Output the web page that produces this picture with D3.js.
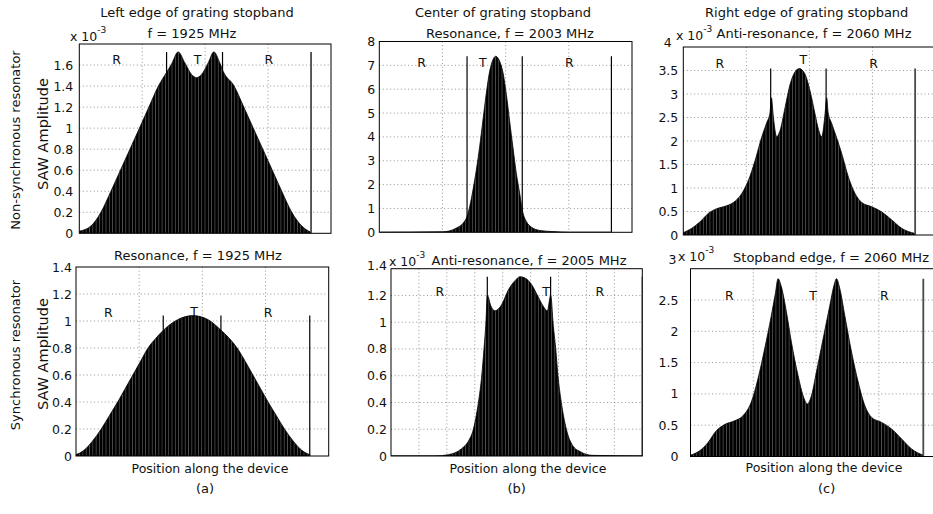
<!DOCTYPE html>
<html><head><meta charset="utf-8">
<script src="https://cdn.jsdelivr.net/npm/d3@7"></script>
<style>
body{margin:0;background:#fff}
text{font-family:"DejaVu Sans",Verdana,sans-serif;fill:#111}
</style>
</head><body>
<svg id="chart" width="933" height="514"></svg>
<script>
// ---------------- DATA ----------------
// (a) top: non-synchronous, left edge, f = 1925 MHz  (x 1e-3)
const a1Pos = [0, 0.186, 0.344, 0.503, 0.654, 0.805, 0.956, 1.106, 1.257, 1.387, 1.467, 1.571, 1.678, 1.784, 1.863, 1.943, 2.048, 2.138, 2.233, 2.286, 2.46, 2.614, 2.765, 2.916, 3.067, 3.217, 3.376, 3.535, 3.68];
const a1Amp = [0.02, 0.07, 0.2, 0.4, 0.6, 0.8, 1.0, 1.2, 1.4, 1.53, 1.61, 1.725, 1.62, 1.51, 1.48, 1.51, 1.62, 1.725, 1.62, 1.54, 1.4, 1.2, 1.0, 0.8, 0.6, 0.4, 0.2, 0.07, 0.01];
const a1Lines = [1.387, 2.276, 3.683];
const a1YTicks = [0, 0.2, 0.4, 0.6, 0.8, 1, 1.2, 1.4, 1.6];
const a1LabelPos = [0.594, 1.878, 3.011];
const a1LabelAmp = [1.65, 1.65, 1.65];

// (b) top: center, resonance f = 2003 MHz
const b1Pos = [0, 1.0, 1.116, 1.221, 1.326, 1.389, 1.432, 1.484, 1.537, 1.589, 1.642, 1.695, 1.747, 1.8, 1.842, 1.905, 1.958, 2.011, 2.063, 2.116, 2.168, 2.221, 2.274, 2.326, 2.405, 2.537, 2.747, 3.011, 3.674];
const b1Amp = [0, 0.02, 0.06, 0.18, 0.38, 0.67, 1.09, 1.79, 2.63, 3.6, 4.73, 5.85, 6.75, 7.24, 7.38, 7.17, 6.69, 5.78, 4.66, 3.54, 2.49, 1.65, 0.81, 0.46, 0.22, 0.08, 0.03, 0, 0];
const b1Lines = [1.389, 2.263, 3.674];
const b1YTicks = [0, 1, 2, 3, 4, 5, 6, 7, 8];
const b1LabelPos = [0.67, 1.64, 3.01];
const b1LabelAmp = [7.11, 7.11, 7.11];

// (c) top: right edge, anti-resonance f = 2060 MHz (x 1e-3)
const c1Pos = [0, 0.132, 0.265, 0.397, 0.529, 0.661, 0.794, 0.926, 1.032, 1.138, 1.243, 1.323, 1.376, 1.397, 1.429, 1.481, 1.534, 1.614, 1.693, 1.772, 1.841, 1.931, 2.011, 2.09, 2.143, 2.196, 2.243, 2.275, 2.296, 2.349, 2.429, 2.513, 2.619, 2.725, 2.831, 2.989, 3.148, 3.307, 3.466, 3.667];
const c1Amp = [0.05, 0.14, 0.28, 0.46, 0.56, 0.61, 0.69, 0.88, 1.16, 1.58, 2.08, 2.39, 2.61, 2.92, 2.5, 2.09, 2.22, 2.71, 3.2, 3.47, 3.54, 3.42, 3.06, 2.57, 2.25, 2.09, 2.5, 2.92, 2.61, 2.39, 2.08, 1.73, 1.23, 0.88, 0.69, 0.6, 0.49, 0.32, 0.14, 0.035];
const c1Lines = [1.386, 2.265, 3.677];
const c1YTicks = [0, 0.5, 1, 1.5, 2, 2.5, 3, 3.5, 4];
const c1LabelPos = [0.58, 1.905, 3.02];
const c1LabelAmp = [3.64, 3.74, 3.64];

// (a) bottom: synchronous, resonance f = 1925 MHz
const a2Pos = [0, 0.12, 0.26, 0.40, 0.53, 0.66, 0.78, 0.90, 1.02, 1.14, 1.26, 1.38, 1.61, 1.85, 2.09, 2.30, 2.43, 2.55, 2.68, 2.80, 2.92, 3.04, 3.17, 3.30, 3.44, 3.58, 3.70];
const a2Amp = [0.01, 0.04, 0.11, 0.2, 0.3, 0.4, 0.5, 0.6, 0.7, 0.8, 0.87, 0.93, 1.01, 1.04, 1.01, 0.93, 0.87, 0.8, 0.7, 0.6, 0.5, 0.4, 0.3, 0.2, 0.11, 0.04, 0.01];
const a2Lines = [1.381, 2.294, 3.70];
const a2YTicks = [0, 0.2, 0.4, 0.6, 0.8, 1, 1.2, 1.4];
const a2LabelPos = [0.51, 1.87, 3.04];
const a2LabelAmp = [1.06, 1.074, 1.06];

// (b) bottom: anti-resonance f = 2005 MHz (x 1e-3)
const b2Pos = [0, 1.575, 2.05, 2.53, 2.77, 2.95, 3.13, 3.25, 3.33, 3.40, 3.45, 3.58, 3.72, 3.96, 4.20, 4.44, 4.62, 4.80, 5.04, 5.27, 5.45, 5.60, 5.72, 5.81, 5.90, 5.98, 6.10, 6.28, 6.50, 6.80, 7.20, 9.0];
const b2Amp = [0, 0, 0.01, 0.055, 0.11, 0.2, 0.4, 0.6, 0.8, 1.0, 1.2, 1.12, 1.085, 1.13, 1.24, 1.31, 1.34, 1.33, 1.28, 1.19, 1.12, 1.085, 1.2, 0.98, 0.8, 0.6, 0.4, 0.2, 0.08, 0.03, 0.005, 0];
const b2Lines = [3.449, 5.716, 9.0];
const b2YTicks = [0, 0.2, 0.4, 0.6, 0.8, 1, 1.2, 1.4];
const b2LabelPos = [1.75, 5.55, 7.48];
const b2LabelAmp = [1.226, 1.226, 1.226];

// (c) bottom: stopband edge f = 2060 MHz (x 1e-3)
const c2Pos = [0, 0.144, 0.277, 0.41, 0.543, 0.702, 0.835, 0.968, 1.074, 1.181, 1.287, 1.351, 1.394, 1.447, 1.527, 1.606, 1.713, 1.793, 1.862, 1.926, 2.005, 2.112, 2.218, 2.287, 2.324, 2.378, 2.457, 2.564, 2.67, 2.777, 2.883, 3.043, 3.202, 3.362, 3.521, 3.707];
const c2Amp = [0.02, 0.09, 0.22, 0.41, 0.51, 0.57, 0.65, 0.87, 1.24, 1.72, 2.25, 2.6, 2.84, 2.71, 2.31, 1.83, 1.29, 0.97, 0.84, 0.97, 1.35, 1.88, 2.41, 2.74, 2.84, 2.68, 2.25, 1.67, 1.19, 0.81, 0.625, 0.545, 0.44, 0.28, 0.12, 0.02];
const c2Lines = [3.707];
const c2YTicks = [0, 0.5, 1, 1.5, 2, 2.5, 3];
const c2LabelPos = [0.62, 1.95, 3.085];
const c2LabelAmp = [2.575, 2.575, 2.575];

const regionText = ["R", "T", "R"];
const grid4 = [1, 2, 3];
const grid9 = [1, 2, 3, 4, 5, 6, 7, 8];

// ---------------- LAYOUT ----------------
const panels = [
  {box:[79.3,44,331,233.3], xd:[0,4], xg:grid4, yd:[0,1.8], yt:a1YTicks, pos:a1Pos, amp:a1Amp, lines:a1Lines, endGray:true, lp:a1LabelPos, la:a1LabelAmp, pad:6, topRaise:0, topShift:0},
  {box:[379.3,41.5,632,232.3], xd:[0,4], xg:grid4, yd:[0,8], yt:b1YTicks, pos:b1Pos, amp:b1Amp, lines:b1Lines, endGray:false, lp:b1LabelPos, la:b1LabelAmp, pad:4, topRaise:0, topShift:0},
  {box:[683.3,47,935.5,235], xd:[0,4], xg:grid4, yd:[0,4], yt:c1YTicks, pos:c1Pos, amp:c1Amp, lines:c1Lines, endGray:true, lp:c1LabelPos, la:c1LabelAmp, pad:5, topRaise:5, topShift:6.5},
  {box:[76,267,328.7,456], xd:[0,4], xg:grid4, yd:[0,1.4], yt:a2YTicks, pos:a2Pos, amp:a2Amp, lines:a2Lines, endGray:false, lp:a2LabelPos, la:a2LabelAmp, pad:4, topRaise:0, topShift:0},
  {box:[391,268.7,642.3,456], xd:[0,9], xg:grid9, yd:[0,1.4], yt:b2YTicks, pos:b2Pos, amp:b2Amp, lines:b2Lines, endGray:false, lp:b2LabelPos, la:b2LabelAmp, pad:4, topRaise:3, topShift:0},
  {box:[690.5,268.7,941.7,456.5], xd:[0,4], xg:grid4, yd:[0,3], yt:c2YTicks, pos:c2Pos, amp:c2Amp, lines:c2Lines, endGray:true, lp:c2LabelPos, la:c2LabelAmp, pad:12, topRaise:9, topShift:2}
];

const svg = d3.select("#chart");
const defs = svg.append("defs");
const pat = defs.append("pattern").attr("id","bars").attr("patternUnits","userSpaceOnUse")
  .attr("width",3.3).attr("height",10);
pat.append("rect").attr("width",3.3).attr("height",10).attr("fill","#000");
pat.append("rect").attr("x",0).attr("width",0.6).attr("height",10).attr("fill","#707070");

const fmt = d3.format("~g");

panels.forEach((p, i) => {
  const [x0, y0, x1, y1] = p.box;
  const x = d3.scaleLinear().domain(p.xd).range([x0, x1]);
  const y = d3.scaleLinear().domain(p.yd).range([y1, y0]);
  defs.append("clipPath").attr("id","clip"+i).append("rect")
    .attr("x",x0).attr("y",y0).attr("width",x1-x0).attr("height",y1-y0);
  const g = svg.append("g");
  const inner = g.append("g").attr("clip-path","url(#clip"+i+")");

  // grid
  inner.selectAll(".gx").data(p.xg).join("line")
    .attr("x1",d=>x(d)).attr("x2",d=>x(d)).attr("y1",y0).attr("y2",y1)
    .attr("stroke","#777").attr("stroke-width",0.8).attr("stroke-dasharray","1,2.6");
  inner.selectAll(".gy").data(p.yt.filter(d=>d>p.yd[0] && d<p.yd[1])).join("line")
    .attr("x1",x0).attr("x2",x1).attr("y1",d=>y(d)).attr("y2",d=>y(d))
    .attr("stroke","#777").attr("stroke-width",0.8).attr("stroke-dasharray","1,2.6");

  // area
  const pts = p.pos.map((v,k)=>[v, p.amp[k]]);
  const area = d3.area().x(d=>x(d[0])).y0(y(0)).y1(d=>y(d[1])).curve(d3.curveMonotoneX);
  inner.append("path").datum(pts).attr("d",area).attr("fill","url(#bars)")
    .attr("stroke","#000").attr("stroke-width",0.8);

  // region boundary lines
  const top = d3.max(p.amp);
  inner.selectAll(".rl").data(p.lines).join("line")
    .attr("x1",d=>x(d)).attr("x2",d=>x(d)).attr("y1",y(0)).attr("y2",y(top))
    .attr("stroke",(d,k)=> (k===p.lines.length-1 && p.endGray) ? "#4a4a4a" : "#000")
    .attr("stroke-width",(d,k)=> (k===p.lines.length-1 && p.endGray) ? 1.8 : 1.2);

  // region labels
  g.selectAll(".lab").data(regionText).join("text")
    .attr("x",(d,k)=>x(p.lp[k])).attr("y",(d,k)=>y(p.la[k]))
    .attr("text-anchor","middle").attr("dominant-baseline","central")
    .attr("font-size",12.5).text(d=>d);

  // box
  g.append("rect").attr("x",x0).attr("y",y0).attr("width",x1-x0).attr("height",y1-y0)
    .attr("fill","none").attr("stroke","#000").attr("stroke-width",1);

  // y axis
  const ax = g.append("g").attr("transform",`translate(${x0},0)`)
    .call(d3.axisLeft(y).tickValues(p.yt).tickSize(0).tickPadding(p.pad).tickFormat(fmt));
  ax.select(".domain").remove();
  ax.selectAll("text").attr("font-size",12.5).attr("fill","#111")
    .style("font-family",'"DejaVu Sans",Verdana,sans-serif');
  ax.selectAll(".tick").filter(d=>d===p.yd[1]).select("text")
    .attr("y",-p.topRaise).attr("x",-(p.pad + p.topShift));
});

// ---------------- TEXTS ----------------
const texts = [
  ["Left edge of grating stopband",197,12.3,13],
  ["f = 1925 MHz",192,33.5,13],
  ["Center of grating stopband",503,12.3,13],
  ["Resonance, f = 2003 MHz",510,33.5,13],
  ["Right edge of grating stopband",806.7,12.3,13],
  ["Anti-resonance, f = 2060 MHz",814,33.5,13],
  ["Resonance, f = 1925 MHz",198,255,13],
  ["Anti-resonance, f = 2005 MHz",529,260,13],
  ["Stopband edge, f = 2060 MHz",831,257,13],
  ["Position along the device",210,468,12.5],
  ["Position along the device",528,468,12.5],
  ["Position along the device",824,467.7,12.5],
  ["(a)",205,488,13],
  ["(b)",516.7,488,13],
  ["(c)",826.7,488,13]
];
svg.selectAll(".t").data(texts).join("text")
  .attr("x",d=>d[1]).attr("y",d=>d[2]).attr("font-size",d=>d[3])
  .attr("text-anchor","middle").attr("dominant-baseline","central").text(d=>d[0]);

const rot = [
  ["Non-synchronous resonator",15,140,13],
  ["SAW Amplitude",43,134,14.5],
  ["Synchronous resonator",15,355,13],
  ["SAW Amplitude",43,354,14.5]
];
svg.selectAll(".r").data(rot).join("text")
  .attr("transform",d=>`translate(${d[1]},${d[2]}) rotate(-90)`)
  .attr("font-size",d=>d[3]).attr("text-anchor","middle").attr("dominant-baseline","central")
  .text(d=>d[0]);

const expo = [[70,35.5],[389,261],[676,35],[678,256]];
expo.forEach(e=>{
  const t = svg.append("text").attr("x",e[0]).attr("y",e[1]).attr("font-size",12.5)
    .attr("dominant-baseline","central");
  t.append("tspan").text("x 10");
  t.append("tspan").attr("font-size",9).attr("dy",-6).text("-3");
});
</script>
</body></html>
